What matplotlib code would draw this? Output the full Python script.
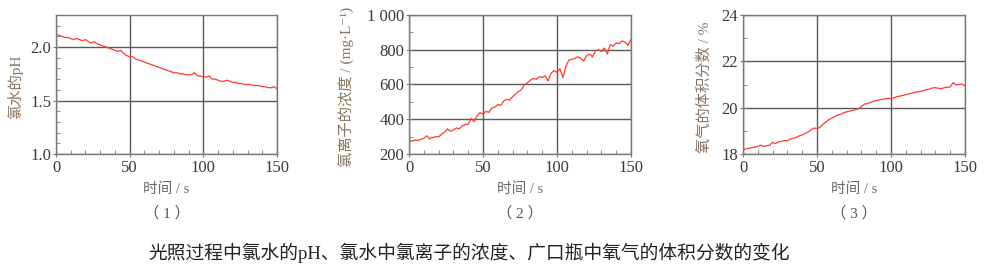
import matplotlib
matplotlib.use("Agg")
import matplotlib.pyplot as plt
from matplotlib.ticker import MultipleLocator

time_s = list(range(0, 151, 2))

ph_values = [2.12, 2.11, 2.10, 2.09, 2.09, 2.08, 2.07, 2.08, 2.07, 2.06,
             2.07, 2.05, 2.04, 2.05, 2.03, 2.02, 2.01, 2.00, 1.99, 1.98,
             1.97, 1.96, 1.97, 1.94, 1.92, 1.91, 1.91, 1.89, 1.88, 1.87,
             1.86, 1.85, 1.84, 1.83, 1.82, 1.81, 1.80, 1.79, 1.78, 1.77,
             1.76, 1.76, 1.75, 1.75, 1.74, 1.74, 1.74, 1.76, 1.73, 1.73,
             1.72, 1.72, 1.73, 1.70, 1.70, 1.69, 1.68, 1.68, 1.69, 1.68,
             1.67, 1.67, 1.66, 1.66, 1.65, 1.65, 1.65, 1.64, 1.64, 1.64,
             1.63, 1.63, 1.62, 1.62, 1.63, 1.61]

chloride_mg_l = [270, 275, 280, 278, 285, 290, 305, 288, 295, 300,
                 298, 315, 325, 345, 330, 338, 350, 345, 362, 370,
                 372, 405, 385, 420, 438, 430, 445, 440, 465, 470,
                 485, 480, 505, 515, 510, 530, 545, 560, 570, 600,
                 610, 625, 635, 630, 645, 640, 650, 620, 665, 680,
                 670, 690, 640, 705, 740, 745, 750, 760, 750, 735,
                 765, 775, 760, 795, 800, 790, 810, 775, 830, 820,
                 840, 835, 850, 845, 825, 860]

oxygen_pct = [18.20, 18.22, 18.25, 18.27, 18.30, 18.33, 18.38, 18.33, 18.36, 18.38,
              18.50, 18.45, 18.52, 18.55, 18.58, 18.57, 18.65, 18.68, 18.72, 18.78,
              18.82, 18.88, 18.95, 19.05, 19.12, 19.10, 19.15, 19.28, 19.38, 19.48,
              19.55, 19.62, 19.68, 19.72, 19.78, 19.82, 19.85, 19.88, 19.92, 19.95,
              20.05, 20.15, 20.18, 20.22, 20.28, 20.30, 20.33, 20.36, 20.38, 20.40,
              20.40, 20.42, 20.48, 20.50, 20.53, 20.56, 20.60, 20.62, 20.66, 20.68,
              20.70, 20.74, 20.78, 20.80, 20.85, 20.86, 20.84, 20.82, 20.86, 20.88,
              20.90, 21.08, 20.98, 21.00, 21.02, 20.95]

x_ticks = [0, 50, 100, 150]
xlabel = "时间 / s"
ylabels = ["氯水的pH", "氯离子的浓度 / (mg·L⁻¹)", "氧气的体积分数 / %"]
subtitles = ["（ 1 ）", "（ 2 ）", "（ 3 ）"]
caption = "光照过程中氯水的pH、氯水中氯离子的浓度、广口瓶中氧气的体积分数的变化"

fam = ["Liberation Serif", "Noto Sans CJK SC", "DejaVu Sans"]
plt.rcParams["font.family"] = fam

fig = plt.figure(figsize=(9.88, 2.79), dpi=100)
W, H = 988, 279

panels = [
    dict(left=56, right=277, y=ph_values, ylim=(1.0, 2.3), yt=[1.0, 1.5, 2.0], ymin=0.1,
         fmt="{:.1f}", ylx=15),
    dict(left=409, right=631, y=chloride_mg_l, ylim=(200, 1000), yt=[200, 400, 600, 800, 1000],
         ymin=100, fmt="{:.0f}", ylx=347),
    dict(left=743, right=965, y=oxygen_pct, ylim=(18, 24), yt=[18, 20, 22, 24], ymin=1,
         fmt="{:.0f}", ylx=705),
]
top, bottom = 15, 154
line_color = "#ff3b2f"
grid_color = "#5a5a5a"
spine_color = "#7a7a7a"
tick_color = "#3a3a3a"
label_color = "#8a7462"

for i, p in enumerate(panels):
    ax = fig.add_axes([p["left"] / W, 1 - bottom / H, (p["right"] - p["left"]) / W, (bottom - top) / H])
    ax.plot(time_s, p["y"], color=line_color, lw=0.9)
    ax.set_xlim(0, 150)
    ax.set_ylim(*p["ylim"])
    ax.set_xticks(x_ticks)
    ax.set_yticks(p["yt"])
    ax.set_yticklabels([p["fmt"].format(v) if not (i == 1 and v == 1000) else "1 000" for v in p["yt"]])
    ax.xaxis.set_minor_locator(MultipleLocator(10))
    ax.yaxis.set_minor_locator(MultipleLocator(p["ymin"]))
    ax.grid(True, which="major", color=grid_color, lw=1.0)
    for s in ax.spines.values():
        s.set_color(spine_color)
        s.set_linewidth(1.0)
    ax.tick_params(which="major", direction="inout", length=5, width=0.8, color=spine_color,
                   labelsize=12, labelcolor=tick_color, pad=1)
    ax.tick_params(which="minor", direction="in", length=3, width=0.6, color=spine_color)
    ax.tick_params(axis="x", which="major", pad=2)
    ax.set_axisbelow(True)
    cx = (p["left"] + p["right"]) / 2
    fig.text(cx / W, 1 - 189 / H, xlabel, ha="center", va="center", fontsize=10.5, color="#6a6a6a")
    fig.text(cx / W, 1 - 213 / H, subtitles[i], ha="center", va="center", fontsize=11, color="#555555")
    fig.text(p["ylx"] / W, 1 - 87 / H, ylabels[i], ha="center", va="center", rotation=90,
             fontsize=11, color=label_color)

fig.text(469 / W, 1 - 253 / H, caption, ha="center", va="center", fontsize=13.5, color="#222222")

fig.savefig("out.png", dpi=100)
